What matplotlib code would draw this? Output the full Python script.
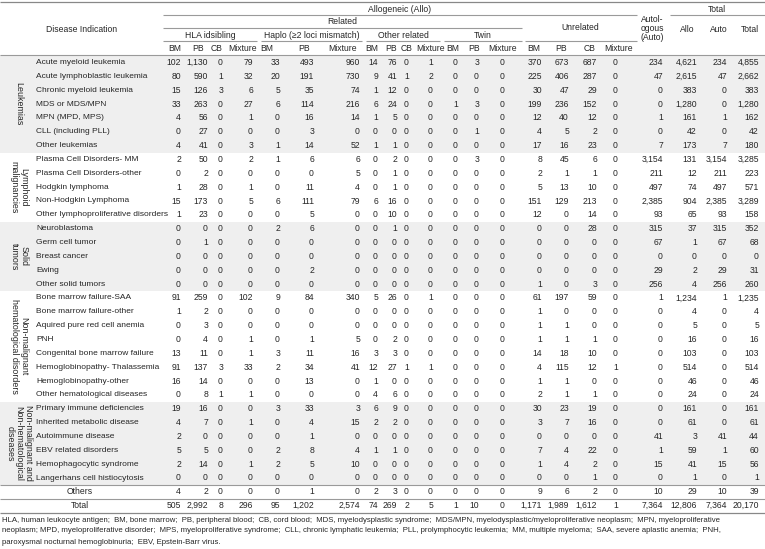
import matplotlib
matplotlib.use("Agg")
import matplotlib.pyplot as plt

plt.rcParams['font.family'] = ['Liberation Sans', 'DejaVu Sans']

# ---------------- data ----------------
groups = ["Leukemias", "Lymphoid\nmalignancies", "Solid\ntumors",
          "Non-malignant\nhematological disorders",
          "Non-malignant and\nNon-hematological\ndiseases"]
group_sizes = [7, 5, 5, 8, 6]
diseases = [
    "Acute myeloid leukemia", "Acute lymphoblastic leukemia", "Chronic myeloid leukemia",
    "MDS or MDS/MPN", "MPN (MPD, MPS)", "CLL (including PLL)", "Other leukemias",
    "Plasma Cell Disorders- MM", "Plasma Cell Disorders-other", "Hodgkin lymphoma",
    "Non-Hodgkin Lymphoma", "Other lymphoproliferative disorders",
    "Neuroblastoma", "Germ cell tumor", "Breast cancer", "Ewing", "Other solid tumors",
    "Bone marrow failure-SAA", "Bone marrow failure-other", "Aquired pure red cell anemia",
    "PNH", "Congenital bone marrow failure", "Hemoglobinopathy- Thalassemia",
    "Hemoglobinopathy-other", "Other hematological diseases",
    "Primary immune deficiencies", "Inherited metabolic disease", "Autoimmune disease",
    "EBV related disorders", "Hemophagocytic syndrome", "Langerhans cell histiocytosis",
]
extra_rows = ["Others", "Total"]

hla_bm  = [102, 80, 15, 33, 4, 0, 4, 2, 0, 1, 15, 1, 0, 0, 0, 0, 0, 91, 1, 0, 0, 13, 91, 16, 0, 19, 4, 2, 5, 2, 0, 4, 505]
hla_pb  = [1130, 590, 126, 263, 56, 27, 41, 50, 2, 28, 173, 23, 0, 1, 0, 0, 0, 259, 2, 3, 4, 11, 137, 14, 8, 16, 7, 0, 5, 14, 0, 2, 2992]
hla_cb  = [0, 1, 3, 0, 0, 0, 0, 0, 0, 0, 0, 0, 0, 0, 0, 0, 0, 0, 0, 0, 0, 0, 3, 0, 1, 0, 0, 0, 0, 0, 0, 0, 8]
hla_mix = [79, 32, 6, 27, 1, 0, 3, 2, 0, 1, 5, 0, 0, 0, 0, 0, 0, 102, 0, 0, 1, 1, 33, 0, 1, 0, 1, 0, 0, 1, 0, 0, 296]
haplo_bm  = [33, 20, 5, 6, 0, 0, 1, 1, 0, 0, 6, 0, 2, 0, 0, 0, 0, 9, 0, 0, 0, 3, 2, 0, 0, 3, 0, 0, 2, 2, 0, 0, 95]
haplo_pb  = [493, 191, 35, 114, 16, 3, 14, 6, 0, 11, 111, 5, 6, 0, 0, 2, 0, 84, 0, 0, 1, 11, 34, 13, 0, 33, 4, 1, 8, 5, 0, 1, 1202]
haplo_mix = [960, 730, 74, 216, 14, 0, 52, 6, 5, 4, 79, 0, 0, 0, 0, 0, 0, 340, 0, 0, 5, 16, 41, 0, 0, 3, 15, 0, 4, 10, 0, 0, 2574]
oth_bm  = [14, 9, 1, 6, 1, 0, 1, 0, 0, 0, 6, 0, 0, 0, 0, 0, 0, 5, 0, 0, 0, 3, 12, 1, 4, 6, 2, 0, 1, 0, 0, 2, 74]
oth_pb  = [76, 41, 12, 24, 5, 0, 1, 2, 1, 1, 16, 10, 1, 0, 0, 0, 0, 26, 0, 0, 2, 3, 27, 0, 6, 9, 2, 0, 1, 0, 0, 3, 269]
oth_cb  = [0, 1, 0, 0, 0, 0, 0, 0, 0, 0, 0, 0, 0, 0, 0, 0, 0, 0, 0, 0, 0, 0, 1, 0, 0, 0, 0, 0, 0, 0, 0, 0, 2]
oth_mix = [1, 2, 0, 0, 0, 0, 0, 0, 0, 0, 0, 0, 0, 0, 0, 0, 0, 1, 0, 0, 0, 0, 1, 0, 0, 0, 0, 0, 0, 0, 0, 0, 5]
twin_bm  = [0, 0, 0, 1, 0, 0, 0, 0, 0, 0, 0, 0, 0, 0, 0, 0, 0, 0, 0, 0, 0, 0, 0, 0, 0, 0, 0, 0, 0, 0, 0, 0, 1]
twin_pb  = [3, 0, 0, 3, 0, 1, 0, 3, 0, 0, 0, 0, 0, 0, 0, 0, 0, 0, 0, 0, 0, 0, 0, 0, 0, 0, 0, 0, 0, 0, 0, 0, 10]
twin_mix = [0, 0, 0, 0, 0, 0, 0, 0, 0, 0, 0, 0, 0, 0, 0, 0, 0, 0, 0, 0, 0, 0, 0, 0, 0, 0, 0, 0, 0, 0, 0, 0, 0]
unr_bm  = [370, 225, 30, 199, 12, 4, 17, 8, 2, 5, 151, 12, 0, 0, 0, 0, 1, 61, 1, 1, 1, 14, 4, 1, 2, 30, 3, 0, 7, 1, 0, 9, 1171]
unr_pb  = [673, 406, 47, 236, 40, 5, 16, 45, 1, 13, 129, 0, 0, 0, 0, 0, 0, 197, 0, 1, 1, 18, 115, 1, 1, 23, 7, 0, 4, 4, 0, 6, 1989]
unr_cb  = [687, 287, 29, 152, 12, 2, 23, 6, 1, 10, 213, 14, 28, 0, 0, 0, 3, 59, 0, 0, 1, 10, 12, 0, 1, 19, 16, 0, 22, 2, 1, 2, 1612]
unr_mix = [0, 0, 0, 0, 0, 0, 0, 0, 0, 0, 0, 0, 0, 0, 0, 0, 0, 0, 0, 0, 0, 0, 1, 0, 0, 0, 0, 0, 0, 0, 0, 0, 1]
auto    = [234, 47, 0, 0, 1, 0, 7, 3154, 211, 497, 2385, 93, 315, 67, 0, 29, 256, 1, 0, 0, 0, 0, 0, 0, 0, 0, 0, 41, 1, 15, 0, 10, 7364]
tot_allo  = [4621, 2615, 383, 1280, 161, 42, 173, 131, 12, 74, 904, 65, 37, 1, 0, 2, 4, 1234, 4, 5, 16, 103, 514, 46, 24, 161, 61, 3, 59, 41, 1, 29, 12806]
tot_auto  = [234, 47, 0, 0, 1, 0, 7, 3154, 211, 497, 2385, 93, 315, 67, 0, 29, 256, 1, 0, 0, 0, 0, 0, 0, 0, 0, 0, 41, 1, 15, 0, 10, 7364]
tot_total = [4855, 2662, 383, 1280, 162, 42, 180, 3285, 223, 571, 3289, 158, 352, 68, 0, 31, 260, 1235, 4, 5, 16, 103, 514, 46, 24, 161, 61, 44, 60, 56, 1, 39, 20170]

columns = [hla_bm, hla_pb, hla_cb, hla_mix, haplo_bm, haplo_pb, haplo_mix,
           oth_bm, oth_pb, oth_cb, oth_mix, twin_bm, twin_pb, twin_mix,
           unr_bm, unr_pb, unr_cb, unr_mix, auto, tot_allo, tot_auto, tot_total]
col_headers = ["BM", "PB", "CB", "Mixture", "BM", "PB", "Mixture",
               "BM", "PB", "CB", "Mixture", "BM", "PB", "Mixture",
               "BM", "PB", "CB", "Mixture", None, "Allo", "Auto", "Total"]

footnote = [
    "HLA, human leukocyte antigen;  BM, bone marrow;  PB, peripheral blood;  CB, cord blood;  MDS, myelodysplastic syndrome;  MDS/MPN, myelodysplastic/myeloproliferative neoplasm;  MPN, myeloproliferative",
    "neoplasm; MPD, myeloproliferative disorder;  MPS, myeloproliferative syndrome;  CLL, chronic lymphatic leukemia;  PLL, prolymphocytic leukemia;  MM, multiple myeloma;  SAA, severe aplastic anemia;  PNH,",
    "paroxysmal nocturnal hemoglobinuria;  EBV, Epstein-Barr virus.",
]

# ---------------- layout ----------------
W, H = 765, 549
col_right = [181, 208, 223, 253, 280, 314, 360, 378, 397, 409, 433, 458, 479, 505,
             542, 569, 597, 618, 663, 697, 727, 759]
hdr_x = [175, 198, 217, 243, 267, 304, 343, 372, 391, 407, 431, 453, 474, 503,
         534, 561, 590, 619, None, 687, 719, 750]
row0, dy = 62.5, 13.85
FS = 6.2
FS_NAME = 6.0
TC = "#262626"
LC = "#9a9a9a"
BAND = "#efefef"

fig = plt.figure(figsize=(W / 100, H / 100), dpi=100)
ax = fig.add_axes([0, 0, 1, 1])
ax.set_xlim(0, W)
ax.set_ylim(H, 0)
ax.axis("off")

def rowy(i):
    return row0 + i * dy

def hline(y, x0=0, x1=W, lw=0.8, c=LC):
    ax.plot([x0, x1], [y, y], color=c, lw=lw, solid_capstyle="butt")

# grey bands
starts = [0]
for s in group_sizes[:-1]:
    starts.append(starts[-1] + s)
for gi, (st, sz) in enumerate(zip(starts, group_sizes)):
    if gi % 2 == 0:
        top = rowy(st) - dy / 2 if st > 0 else 55
        bot = rowy(st + sz - 1) + dy / 2
        ax.add_patch(plt.Rectangle((0, top), W, bot - top, color=BAND, lw=0, zorder=0))

# header lines
hline(2, lw=0.9, c="#888888")
hline(15, 163, 637)
hline(15, 670, W)
hline(28, 163, 522)
for x0, x1 in [(163, 257), (261, 362), (366, 440), (444, 522), (525, 637)]:
    hline(41, x0, x1)
hline(55, lw=0.8)

# header texts
ax.text(82, 29, "Disease Indication", ha="center", va="center", fontsize=FS, color=TC)
ax.text(400, 9, "Allogeneic (Allo)", ha="center", va="center", fontsize=FS, color=TC)
ax.text(717, 9, "Total", ha="center", va="center", fontsize=FS, color=TC)
ax.text(342, 22, "Related", ha="center", va="center", fontsize=FS, color=TC)
ax.text(580, 28, "Unrelated", ha="center", va="center", fontsize=FS, color=TC)
ax.text(652, 28.5, "Autol-\nogous\n(Auto)", ha="center", va="center", fontsize=FS,
        color=TC, linespacing=0.95)
for txt, xc in [("HLA idsibling", 210), ("Haplo (\u22652 loci mismatch)", 312),
                ("Other related", 403), ("Twin", 483)]:
    ax.text(xc, 35, txt, ha="center", va="center", fontsize=FS, color=TC)
for h, xc in zip(col_headers, hdr_x):
    if h is None:
        continue
    y = 29 if h in ("Allo", "Auto", "Total") else 48.5
    ax.text(xc, y, h, ha="center", va="center", fontsize=FS, color=TC)

# group labels
for g, st, sz in zip(groups, starts, group_sizes):
    yc = (rowy(st) + rowy(st + sz - 1)) / 2
    ax.text(19, yc, g, ha="center", va="center", rotation=-90, fontsize=FS + 0.2,
            color=TC, linespacing=1.05, multialignment="center")

# disease names
for i, d in enumerate(diseases):
    ax.text(36, rowy(i), d, ha="left", va="center", fontsize=FS_NAME, color=TC)
n = len(diseases)
for j, d in enumerate(extra_rows):
    ax.text(80, rowy(n + j), d, ha="center", va="center", fontsize=FS, color=TC)

# values
for col, xr in zip(columns, col_right):
    for i, v in enumerate(col):
        ax.text(xr, rowy(i), f"{v:,}", ha="right", va="center", fontsize=FS, color=TC)

# bottom lines
hline(rowy(n) - dy / 2)
hline(rowy(n + 1) - dy / 2)
hline(rowy(n + 1) + dy / 2, lw=0.9, c="#888888")

# footnote
for k, line in enumerate(footnote):
    ax.text(2, 520 + k * 11, line, ha="left", va="center", fontsize=5.6, color=TC)

fig.savefig("out.png", dpi=100)
